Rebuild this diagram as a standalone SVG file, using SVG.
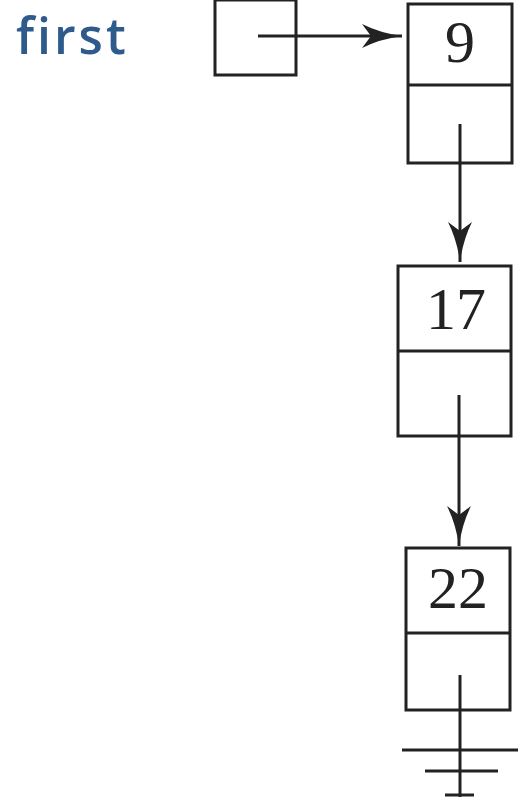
<svg xmlns="http://www.w3.org/2000/svg" width="518" height="797" viewBox="0 0 518 797">
<style>
.box{fill:none;stroke:#222;stroke-width:3}
.ln{stroke:#222;stroke-width:3;fill:none}
.num{font-family:"Liberation Serif",serif;font-size:60px;fill:#222;text-anchor:middle}
.lbl{font-family:"Open Sans","Liberation Sans",sans-serif;font-weight:600;font-size:50px;letter-spacing:3px;fill:#2f5b8c}
</style>
<defs>
<marker id="ah" viewBox="0 0 40 24" refX="40" refY="12" markerWidth="40" markerHeight="24" markerUnits="userSpaceOnUse" orient="auto">
<path d="M0,0 Q18,9 40,12 Q18,15 0,24 L9,12 Z" fill="#222"/>
</marker>
</defs>
<rect width="518" height="797" fill="#fff"/>
<g id="label-first"><text class="lbl" x="16" y="54">first</text></g>
<g id="first-box"><rect class="box" x="215" y="0" width="81" height="75"/></g>
<g id="node9">
<rect class="box" x="408" y="4" width="104" height="159"/>
<line class="ln" x1="408" y1="85" x2="512" y2="85"/>
<text class="num" x="460" y="62">9</text>
</g>
<g id="node17">
<rect class="box" x="398" y="266" width="113" height="170"/>
<line class="ln" x1="398" y1="351" x2="511" y2="351"/>
<text class="num" x="456" y="329">17</text>
</g>
<g id="node22">
<rect class="box" x="406" y="548" width="104" height="162"/>
<line class="ln" x1="406" y1="633" x2="510" y2="633"/>
<text class="num" x="458" y="608">22</text>
</g>
<g id="connectors">
<line class="ln" x1="258" y1="36" x2="402" y2="36" marker-end="url(#ah)"/>
<line class="ln" x1="460" y1="124" x2="460" y2="262" marker-end="url(#ah)"/>
<line class="ln" x1="459" y1="395" x2="459" y2="546" marker-end="url(#ah)"/>
<line class="ln" x1="460" y1="675" x2="460" y2="797"/>
<line class="ln" x1="402" y1="750" x2="518" y2="750"/>
<line class="ln" x1="425" y1="771" x2="498" y2="771"/>
<line class="ln" x1="445" y1="795" x2="474" y2="795"/>
</g>
</svg>
